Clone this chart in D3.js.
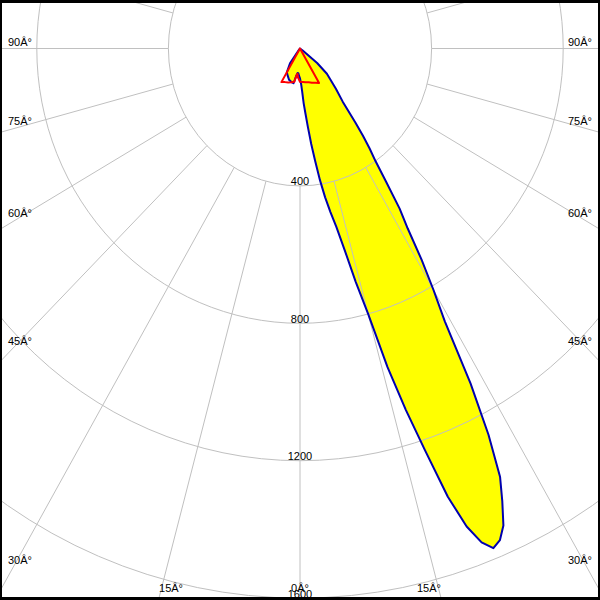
<!DOCTYPE html>
<html><head><meta charset="utf-8">
<script src="https://cdn.jsdelivr.net/npm/d3@7"></script>
<style>html,body{margin:0;padding:0;background:#fff;}svg{display:block;}</style>
</head><body>
<svg id="chart" width="600" height="600"></svg>
<script>
// ---- data ----
const ringValues = [400, 800, 1200, 1600];
const spokeAngles = d3.range(-165, 181, 15);
const labelAngles = [-90, -75, -60, -45, -30, -15, 0, 15, 30, 45, 60, 75, 90];
const labelTexts = ["90\u00C2\u00B0","75\u00C2\u00B0","60\u00C2\u00B0","45\u00C2\u00B0","30\u00C2\u00B0","15\u00C2\u00B0","0\u00C2\u00B0","15\u00C2\u00B0","30\u00C2\u00B0","45\u00C2\u00B0","60\u00C2\u00B0","75\u00C2\u00B0","90\u00C2\u00B0"];
// C-plane (blue, filled)
const blueAngles = [-90,-45,-40,-35,-30,-25,-20,-15,-11,-8,-6,-4,-2,0,2,3,4,5,6,7,8,9,10,11,12,13,14,15,16,17,18,19,20,21,22,23,24,25,26,27,28,29,30,31,32,33,34,35,36,37,38,40,43,48,51,55,60,90];
const blueValues = [0,0,5,53,80,88,97,101,103,80,72,72,80,87,105,125,160,190,230,280,330,388,440,485,530,600,700,800,965,1100,1230,1380,1481,1540,1569,1555,1520,1455,1387,1262,1104,908,811,718,618,556,468,400,360,318,274,202,160,110,67,10,0,0];
// C-plane (red)
const redAngles = [-90,-35,-30,-25,-20,-15,-10,-8,-6,-4,0,5,10,15,20,25,30,35,90];
const redValues = [0,0,113,108,105,102,98,80,74,85,97,98,100,102,106,110,116,0,0];

// ---- geometry ----
const W = 600, H = 600, cx = 300, cy = 48.5;
const rX = d3.scaleLinear().domain([0, 1600]).range([0, 526.4]);
const rY = d3.scaleLinear().domain([0, 1600]).range([0, 549.6]);
const rad = d3.scaleLinear().domain([0, 180]).range([0, Math.PI]);
function pt(a, v) { const t = rad(a); return [cx + rX(v) * Math.sin(t), cy + rY(v) * Math.cos(t)]; }

const svg = d3.select("#chart");
svg.append("rect").attr("width", W).attr("height", H).attr("fill", "#fff");

const line = d3.line().x(d => d[0]).y(d => d[1]);
const blue = blueAngles.map((a, i) => pt(a, blueValues[i]));
const red = redAngles.map((a, i) => pt(a, redValues[i]));

// fill
svg.append("path").attr("d", line(blue) + "Z").attr("fill", "#ffff00").attr("stroke", "none");

// grid
const grid = svg.append("g").attr("stroke", "#c0c0c0").attr("stroke-width", 1).attr("fill", "none");
grid.selectAll("ellipse").data(ringValues).join("ellipse")
  .attr("cx", cx).attr("cy", cy).attr("rx", d => rX(d)).attr("ry", d => rY(d));
grid.selectAll("line").data(spokeAngles).join("line")
  .attr("x1", d => pt(d, 400)[0]).attr("y1", d => pt(d, 400)[1])
  .attr("x2", d => pt(d, 3000)[0]).attr("y2", d => pt(d, 3000)[1]);

// curves
svg.append("path").attr("d", line(blue) + "Z").attr("fill", "none")
  .attr("stroke", "#0000b0").attr("stroke-width", 2).attr("stroke-linejoin", "round");
svg.append("path").attr("d", line(red) + "Z").attr("fill", "none")
  .attr("stroke", "#ff0000").attr("stroke-width", 2).attr("stroke-linejoin", "round");

// ring labels
const font = "'Liberation Sans', Arial, sans-serif";
svg.selectAll("text.ring").data(ringValues).join("text").attr("class", "ring")
  .attr("x", cx).attr("y", d => cy + rY(d) - 0.5)
  .attr("text-anchor", "middle").attr("font-family", font).attr("font-size", 11).attr("fill", "#000")
  .text(d => d);

// angle labels
labelAngles.forEach((a, i) => {
  const t = rad(a);
  const dx = rX(1) * Math.sin(t), dy = rY(1) * Math.cos(t);
  const tSide = Math.abs(dx) > 1e-9 ? (280 / Math.abs(dx)) : Infinity;
  const tBot = dy > 1e-9 ? (588 - cy) / dy : Infinity;
  let x, y;
  if (tSide <= tBot) {
    x = cx + tSide * dx; y = cy + tSide * dy;
    const k = (90 - Math.abs(a)) / 60;
    y = y - 3 + 12 * k * k;
  } else {
    x = cx + tBot * dx; y = 592;
    if (a !== 0) x -= Math.sign(a) * 9.5;
  }
  svg.append("text").attr("x", x).attr("y", y).attr("text-anchor", "middle")
    .attr("font-family", font).attr("font-size", 11).attr("fill", "#000").text(labelTexts[i]);
});

// frame
svg.append("rect").attr("x", 0).attr("y", 0).attr("width", 2).attr("height", H).attr("fill", "#000");
svg.append("rect").attr("x", W - 2).attr("y", 0).attr("width", 2).attr("height", H).attr("fill", "#000");
svg.append("rect").attr("x", 0).attr("y", 0).attr("width", W).attr("height", 3).attr("fill", "#000");
svg.append("rect").attr("x", 0).attr("y", H - 3).attr("width", W).attr("height", 3).attr("fill", "#000");
</script>
</body></html>
